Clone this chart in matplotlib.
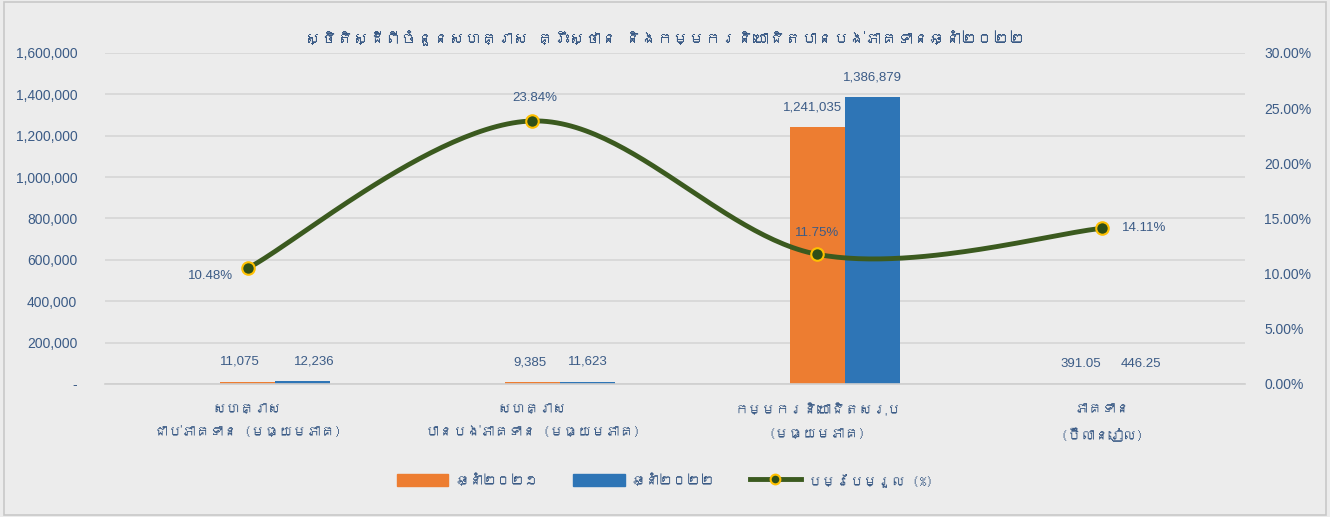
import numpy as np
import matplotlib
matplotlib.use('Agg')
import matplotlib.pyplot as plt
from matplotlib import font_manager
from matplotlib.ft2font import FT2Font
from matplotlib.patches import Rectangle
from matplotlib.lines import Line2D
from matplotlib.patches import Patch

# data
categories = ['សហគ្រាស\nជាប់ភាគទាន (មធ្យមភាគ)',
              'សហគ្រាស\nបានបង់ភាគទាន (មធ្យមភាគ)',
              'កម្មករនិយោជិតសរុប\n(មធ្យមភាគ)',
              'ភាគទាន\n(ប៊ីលានរៀល)']
vals_2021 = [11075, 9385, 1241035, 391.05]
vals_2022 = [12236, 11623, 1386879, 446.25]
labels_2021 = ['11,075', '9,385', '1,241,035', '391.05']
labels_2022 = ['12,236', '11,623', '1,386,879', '446.25']
change_pct = [10.48, 23.84, 11.75, 14.11]
title = 'ស្ថិតិស្ដីពីចំនួនសហគ្រាស គ្រឹះស្ថាន និងកម្មករនិយោជិតបានបង់ភាគទានឆ្នាំ២០២២'
legend_names = ['ឆ្នាំ២០២១', 'ឆ្នាំ២០២២', 'បម្រែបម្រួល (%)']

# find a font with khmer glyphs, if there is one
khmer_family = None
for f in font_manager.fontManager.ttflist:
    try:
        if 0x1780 in FT2Font(f.fname).get_charmap():
            khmer_family = f.name
            break
    except Exception:
        pass
kfam = ([khmer_family] if khmer_family else []) + ['Liberation Sans', 'DejaVu Sans']

plt.rcParams['font.family'] = ['Liberation Sans', 'DejaVu Sans']

txt = '#3b5b86'
bg = '#ececec'
orange = '#ed7d31'
blue = '#2e75b6'
green = '#3b5a1f'

fig = plt.figure(figsize=(13.3, 5.17), dpi=100, facecolor=bg)
ax = fig.add_axes([0.079, 0.2573, 0.857, 0.6402])
ax.set_facecolor(bg)
fig.patches.append(Rectangle((0.003, 0.004), 0.994, 0.992, transform=fig.transFigure,
                             fill=False, edgecolor='#c8c8c8', lw=1.2))

x = np.arange(len(categories))
w = 0.193
ax.bar(x, vals_2021, w, color=orange, zorder=2)
ax.bar(x + w, vals_2022, w, color=blue, zorder=2)
# label nudges (pixels) like excel placed them
dx21 = [-8, -3, -5, -22]
dx22 = [12, 0, 0, -16]
for i in range(len(x)):
    ax.annotate(labels_2021[i], (x[i], vals_2021[i]), xytext=(dx21[i], 20), textcoords='offset pixels',
                ha='center', va='center', fontsize=9.5, color=txt)
    ax.annotate(labels_2022[i], (x[i] + w, vals_2022[i]), xytext=(dx22[i], 20), textcoords='offset pixels',
                ha='center', va='center', fontsize=9.5, color=txt)

ax.set_xlim(-0.5, 3.5)
ax.set_ylim(0, 1600000)
ax.set_yticks(np.arange(0, 1600001, 200000))
ax.set_yticklabels(['-' if v == 0 else f'{v:,.0f}' for v in np.arange(0, 1600001, 200000)])
ax.grid(axis='y', color='#d6d6d6', lw=1.2, zorder=0)
for s in ['left', 'right', 'top']:
    ax.spines[s].set_visible(False)
ax.spines['bottom'].set_color('#cfcfcf')
ax.spines['bottom'].set_linewidth(1.2)
ax.tick_params(axis='y', length=0, pad=20, labelsize=10, labelcolor=txt)
ax.set_xticks(x)
ax.set_xticklabels(categories, family=kfam, fontsize=10, color=txt, linespacing=2.0)
ax.tick_params(axis='x', length=0, pad=14)

# secondary axis with the smoothed change line
ax2 = ax.twinx()
ax2.set_ylim(0, 30)
ax2.set_yticks(np.arange(0, 31, 5))
ax2.set_yticklabels([f'{v:.2f}%' for v in np.arange(0, 31, 5)])
ax2.tick_params(axis='y', length=0, pad=14, labelsize=10, labelcolor=txt)
for s in ax2.spines.values():
    s.set_visible(False)

# excel style smoothing (bezier through the points)
P = np.column_stack([x, change_pct]).astype(float)
Pe = np.vstack([P[0], P, P[-1]])
t = np.linspace(0, 1, 60)[:, None]
curve = []
for i in range(len(P) - 1):
    p0, p3 = Pe[i + 1], Pe[i + 2]
    c1 = p0 + (Pe[i + 2] - Pe[i]) / 6
    c2 = p3 - (Pe[i + 3] - Pe[i + 1]) / 6
    seg = (1 - t) ** 3 * p0 + 3 * (1 - t) ** 2 * t * c1 + 3 * (1 - t) * t ** 2 * c2 + t ** 3 * p3
    curve.append(seg)
curve = np.vstack(curve)
ax2.plot(curve[:, 0], curve[:, 1], color=green, lw=3.5, zorder=3, solid_capstyle='round')
ax2.plot(x, change_pct, 'o', ms=9, mfc='#2f4f17', mec='#ffc000', mew=1.5, zorder=4)
offs = [(-37, -8), (2, 23), (0, 21), (42, 0)]
for i in range(len(x)):
    ax2.annotate(f'{change_pct[i]:.2f}%', (x[i], change_pct[i]), xytext=offs[i],
                 textcoords='offset pixels', ha='center', va='center', fontsize=9.5, color=txt)

fig.text(0.5, 0.926, title, family=kfam, fontsize=11.5, color=txt, ha='center', va='center')

handles = [Patch(color=orange), Patch(color=blue),
           Line2D([0], [0], color=green, lw=3.5, marker='o', ms=7, mfc='#2f4f17', mec='#ffc000', mew=1.5)]
fig.legend(handles, legend_names, loc='center', bbox_to_anchor=(0.5, 0.072), ncol=3, frameon=False,
           prop={'family': kfam, 'size': 10}, labelcolor=txt, handlelength=3.7, handleheight=0.9,
           handletextpad=0.5, columnspacing=2.5)

fig.savefig('out.png', dpi=100, facecolor=bg)
